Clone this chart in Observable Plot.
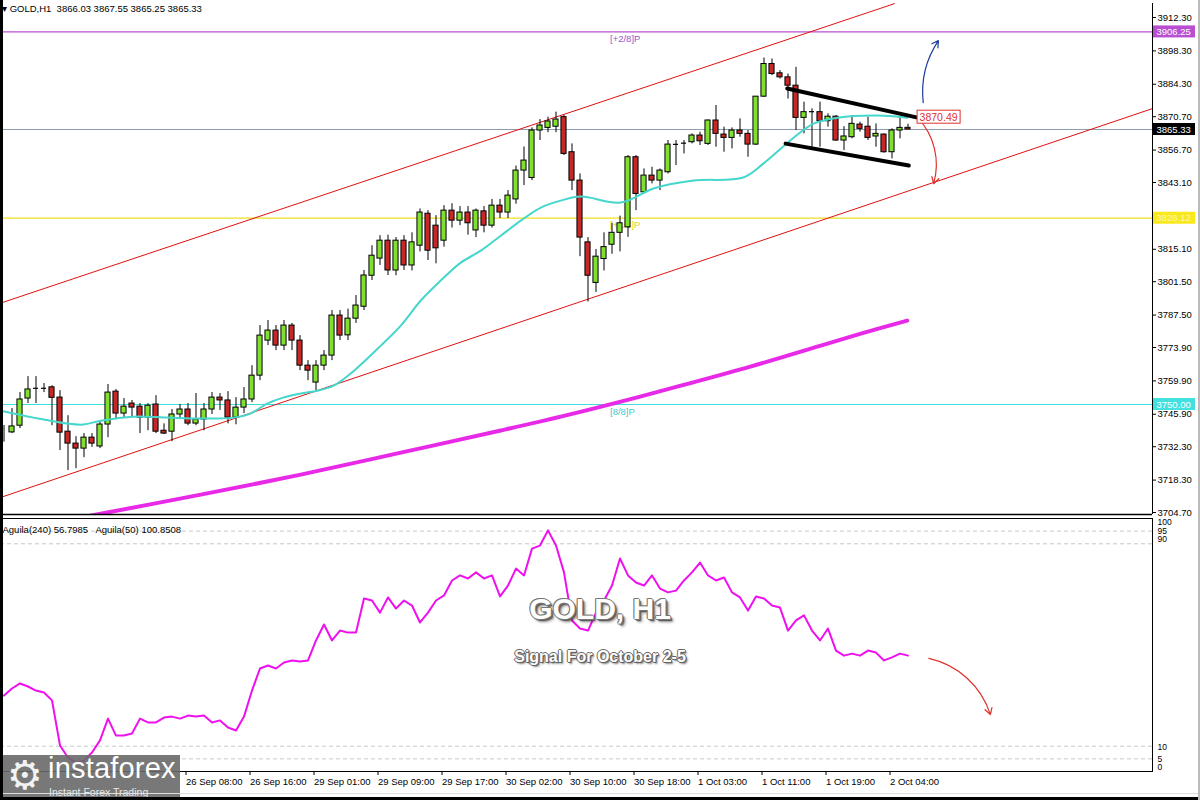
<!DOCTYPE html>
<html><head><meta charset="utf-8">
<script src="https://cdn.jsdelivr.net/npm/d3@7"></script>
<script src="https://cdn.jsdelivr.net/npm/@observablehq/plot@0.6"></script>
<style>
html,body{margin:0;padding:0;background:#fff;}
#wrap{position:relative;width:1200px;height:800px;overflow:hidden;background:#fff;font-family:"Liberation Sans",Arial,sans-serif;}
#price,#ind{position:absolute;left:0;}
#price{top:0}
#ind{top:516px}
#hdr{position:absolute;left:2px;top:3px;font-size:9.5px;color:#000;white-space:pre;}
#title{position:absolute;left:0;width:1200px;top:592px;text-align:center;font-weight:bold;font-size:30px;color:#fff;text-shadow:-1px 0 #777,1px 0 #777,0 -1px #777,0 1px #777,-1px -1px #888,1px 1px #777,2px 2px 1px #555,3px 3px 3px rgba(0,0,0,0.45);}
#sub{position:absolute;left:0;width:1200px;top:648px;text-align:center;font-weight:bold;font-size:16px;color:#fff;text-shadow:-1px 0 #666,1px 0 #666,0 -1px #666,0 1px #666,1px 1px #555,2px 2px 2px rgba(0,0,0,0.5);}
#logo{position:absolute;left:3px;top:755px;width:177px;height:45px;background:rgba(105,105,105,0.9);color:#fff;}
#logo .gear{position:absolute;left:4px;top:-2px;font-size:40px;line-height:44px;color:#f2f2f2;font-family:"DejaVu Sans";}
#logo .big{position:absolute;left:45px;top:-3px;font-size:29px;letter-spacing:0.2px;}
#logo .small{position:absolute;left:46px;top:31px;font-size:10.5px;color:#e8e8e8;}
#lb{position:absolute;left:0;top:0;width:3px;height:800px;background:#000;}
#bb{position:absolute;left:0;top:797px;width:1200px;height:3px;background:#000;}
#rb{position:absolute;left:1198px;top:0;width:2px;height:800px;background:#bbb;}
#gl{position:absolute;left:0;top:793px;width:1200px;height:1px;background:#ddd;}
</style></head>
<body><div id="wrap">
<div id="price"></div>
<div id="ind"></div>
<div id="hdr">▾ GOLD,H1  3866.03 3867.55 3865.25 3865.33</div>
<div id="title">GOLD, H1</div>
<div id="sub">Signal For October 2-5</div>
<div id="logo"><span class="gear">⚙</span><span class="big">instaforex</span><span class="small">Instant Forex Trading</span></div>
<div id="gl"></div><div id="lb"></div><div id="bb"></div><div id="rb"></div>
</div>
<script>
// ---------- DATA ----------
const opens = [3738.3,3738.3,3741.1,3752.5,3756.8,3756.8,3757.2,3752.9,3738.6,3733.6,3731.5,3736.1,3732.4,3741.6,3755.4,3746.2,3750.4,3749.1,3744.5,3750.0,3739.0,3738.6,3745.8,3747.9,3742.0,3743.7,3747.9,3752.9,3751.7,3744.5,3748.7,3752.1,
3762.1,3776.8,3781.0,3774.7,3783.1,3776.8,3766.3,3759.2,3766.3,3770.5,3787.3,3779.0,3786.0,3791.0,3804.0,3811.2,3818.7,3806.2,3818.7,3808.3,3816.6,3830.0,3825.0,3818.7,3831.3,3827.1,3830.5,3823.0,3831.0,3825.0,3833.4,3830.5,3836.0,3848.1,3845.0,3864.9,3866.0,3866.5,
3870.5,3855.8,3843.9,3818.0,3801.0,3811.0,3817.0,3822.0,3824.3,3853.7,3839.0,3846.0,3843.9,3847.4,3859.0,3859.4,3860.0,3862.8,3859.3,3869.1,3863.2,3861.8,3864.9,3863.5,3859.0,3879.1,3892.8,3888.9,3887.2,3883.7,3870.2,3872.8,3872.6,3868.8,3870.7,3860.7,3862.1,3867.4,3866.5,3862.4,3863.2,3855.8,3864.9,3866.03];
const highs = [3741.2,3748.3,3755.0,3761.7,3761.7,3758.8,3757.9,3755.8,3745.3,3736.5,3737.8,3737.8,3742.8,3758.4,3756.3,3752.5,3751.7,3750.4,3750.4,3753.7,3741.9,3747.9,3750.0,3750.4,3754.6,3750.4,3755.0,3754.6,3755.4,3752.9,3757.1,3766.3,
3783.1,3785.2,3783.1,3785.2,3784.0,3778.9,3768.4,3768.4,3772.6,3789.4,3789.4,3790.0,3795.7,3806.2,3816.6,3820.8,3821.0,3820.0,3820.8,3822.0,3832.0,3831.3,3829.2,3833.4,3834.2,3833.0,3833.0,3832.0,3833.0,3836.0,3836.0,3839.7,3850.0,3858.0,3866.0,3869.5,3870.5,3872.6,
3871.2,3859.3,3846.7,3820.0,3815.0,3822.0,3826.0,3829.0,3854.4,3854.4,3848.8,3849.5,3848.8,3860.7,3860.7,3860.7,3863.5,3864.2,3869.3,3875.4,3866.3,3866.0,3869.8,3864.9,3879.1,3895.3,3894.9,3890.0,3888.6,3891.4,3876.8,3874.0,3876.8,3871.9,3871.2,3866.5,3871.2,3868.4,3870.5,3867.7,3863.5,3865.6,3870.5,3867.55];
const lows = [3734.2,3737.8,3739.9,3750.4,3750.4,3755.0,3741.1,3730.7,3722.3,3723.1,3727.7,3732.0,3731.5,3736.1,3743.6,3744.5,3744.5,3737.8,3739.0,3737.8,3737.4,3734.4,3744.1,3741.1,3741.1,3739.0,3745.8,3747.5,3741.9,3741.5,3746.2,3750.8,
3760.0,3774.7,3772.6,3772.6,3772.6,3764.2,3760.0,3755.8,3764.2,3768.4,3776.8,3776.8,3784.0,3789.4,3802.0,3808.3,3804.1,3804.0,3806.2,3806.0,3814.0,3810.4,3809.0,3816.0,3824.0,3825.0,3821.0,3820.0,3822.0,3824.0,3828.0,3828.0,3834.0,3841.8,3843.9,3860.7,3864.0,3864.0,
3854.4,3839.7,3812.0,3793.0,3797.0,3806.0,3813.0,3814.0,3820.1,3831.3,3838.3,3842.5,3839.7,3846.7,3850.2,3855.1,3859.3,3858.6,3858.6,3857.9,3855.8,3857.2,3862.1,3853.7,3858.6,3878.8,3887.9,3886.5,3878.1,3864.9,3863.5,3857.9,3857.9,3866.3,3860.4,3856.5,3861.4,3864.2,3860.7,3857.9,3855.4,3853.0,3861.4,3865.25];
const closes = [3738.0,3740.8,3752.1,3756.3,3756.8,3756.8,3752.8,3738.2,3733.6,3731.5,3736.1,3733.6,3741.6,3755.0,3746.2,3749.1,3748.7,3744.5,3749.5,3738.6,3737.8,3745.8,3747.9,3742.0,3743.7,3747.9,3752.9,3751.7,3744.5,3748.7,3752.1,3762.1,
3778.9,3781.0,3774.7,3783.1,3776.8,3766.3,3764.2,3766.3,3770.5,3787.3,3778.9,3786.0,3791.5,3804.1,3812.4,3818.7,3806.2,3818.7,3808.3,3818.0,3830.5,3814.5,3815.5,3831.3,3827.1,3830.5,3826.0,3831.3,3825.0,3833.4,3830.5,3837.6,3848.1,3852.3,3864.9,3867.0,3868.7,3869.5,
3855.1,3843.9,3820.0,3804.0,3812.0,3816.0,3822.0,3826.0,3853.7,3838.3,3846.0,3843.9,3848.1,3859.0,3859.1,3859.6,3862.8,3860.4,3869.1,3863.5,3861.8,3864.9,3863.5,3859.0,3879.1,3892.8,3888.6,3887.2,3883.7,3870.2,3872.6,3872.8,3868.8,3870.7,3860.7,3862.4,3867.7,3865.6,3861.8,3863.5,3855.8,3864.9,3866.0,3865.33];

// 20-period MA (cyan) read at bar positions
const ma20Idx = [-0.4,3.7,7.9,9.9,12.1,16.2,20.4,24.6,28.7,30.8,32.9,34.9,37.1,39.2,41.2,43.3,47.1,49.6,52.1,54.6,57.1,59.6,62.1,64.6,67.1,69.6,72.1,77.1,81.2,86.2,92.4,94.9,98.7,101.2,104.2,109.2,112.9];
const ma20Val = [3747.4,3744.5,3742.0,3741.6,3743.2,3744.9,3744.5,3744.1,3744.5,3746.2,3750.4,3752.9,3754.6,3755.8,3757.9,3762.9,3774.7,3783.1,3793.6,3802.0,3809.5,3814.5,3820.8,3827.1,3832.6,3835.5,3837.2,3834.7,3840.6,3843.9,3845.2,3851.0,3861.9,3867.8,3870.3,3871.2,3870.3];
// 240-period MA (magenta)
const ma240Idx = [10.2,24.6,37.1,49.6,62.1,69.6,77.1,84.6,93.3,102.1,107.1,112.9];
const ma240Val = [3703.0,3712.2,3720.6,3729.8,3739.1,3744.9,3751.2,3757.9,3765.9,3774.7,3779.7,3785.2];

// Oscillator (panel 2)
const oscVal = [30.0,32.8,34.8,33.6,32.0,31.2,28.1,10.3,5.5,3.6,4.3,7.5,12.3,20.9,14.2,14.2,15.0,20.9,19.4,19.4,21.3,21.7,20.9,22.1,21.7,22.1,19.4,20.2,17.4,16.2,21.7,32.0,
40.7,41.9,40.7,43.1,43.9,43.5,43.9,51.8,58.1,51.8,55.7,54.9,54.9,68.4,67.6,62.8,68.8,64.4,67.6,65.6,58.9,62.8,67.6,69.6,75.5,77.5,76.3,78.7,76.3,77.5,69.2,73.5,80.2,77.5,88.1,89.3,95.3,89.3,
78.7,59.7,56.5,55.7,62.8,67.6,73.5,84.2,77.5,74.7,73.5,77.5,72.3,70.8,71.5,75.5,78.7,82.6,77.5,75.5,76.7,70.8,68.8,63.6,69.2,68.4,65.6,64.8,55.7,59.7,61.7,55.7,51.8,56.5,47.8,45.8,46.6,45.8,47.8,47.0,43.9,45.1,46.6,45.8];
const oscLevels = [95, 90, 10, 5];

// Murrey levels and current price
const levelNames = ["[+2/8]P", "[+1/8]P", "[8/8]P"];
const levelPrices = [3906.25, 3828.12, 3750.00];
const levelColors = ["#b94fd0", "#f0e020", "#3fdcdc"];
const levelTextColors = ["#9a55cc", "#e6d21a", "#3fc8d0"];
const lastPrice = 3865.33;

// Channel (analyst drawing), endpoints in bar index / price
const upperChanIdx = [-0.44, 111.3];
const upperChanVal = [3792.5, 3918.1];
const lowerChanIdx = [-0.44, 143.56];
const lowerChanVal = [3711.0, 3874.1];
// Flag pattern lines
const flagTopIdx = [97.9, 114.2];
const flagTopVal = [3882.5, 3870.3];
const flagBotIdx = [97.7, 113.1];
const flagBotVal = [3859.4, 3850.2];
const flagLabel = 3870.49;

// Arrows
const upArrow = {x1: 114.9, y1: 3876.6, x2: 116.8, y2: 3902.6};
const downArrow = {x1: 114.2, y1: 3870.3, x2: 116.2, y2: 3842.6};
const oscArrow = {x1: 115.6, y1: 44.7, x2: 123.3, y2: 22.5};

// Axis ticks (3829.10 is hidden under the 3828.12 label in the original)
const priceTicks = [3912.30,3898.30,3884.30,3870.70,3856.70,3843.10,3815.10,3801.50,3787.50,3773.90,3759.90,3745.90,3732.30,3718.30,3704.70];
const timeTickIdx = [23,31,39,47,55,63,71,79,87,95,103,111];
const timeTickLabels = ["26 Sep 08:00","26 Sep 16:00","29 Sep 01:00","29 Sep 09:00","29 Sep 17:00","30 Sep 02:00","30 Sep 10:00","30 Sep 18:00","1 Oct 03:00","1 Oct 11:00","1 Oct 19:00","2 Oct 04:00"];
const oscHeader = "Aguila(240) 56.7985   Aguila(50) 100.8508";

// ---------- BUILD ----------
const candles = opens.map((o, i) => ({i, o, h: highs[i], l: lows[i], c: closes[i]}));
const up = candles.filter(d => d.c > d.o + 0.3);
const dn = candles.filter(d => d.c < d.o - 0.3);
const doji = candles.filter(d => Math.abs(d.c - d.o) <= 0.3);
const ma20 = ma20Idx.map((i, k) => ({i, v: ma20Val[k]}));
const ma240 = ma240Idx.map((i, k) => ({i, v: ma240Val[k]}));
const osc = oscVal.map((v, i) => ({i, v}));
const levels = levelPrices.map((p, k) => ({p, name: levelNames[k], col: levelColors[k], tcol: levelTextColors[k]}));
const pairs = (a, b) => a.map((x, k) => ({i: x, v: b[k]}));

const xDomain = [-0.4375, 143.5625];
const hw = 0.32;
const GREEN = "#7fe030", RED = "#c62828";
const fontFamily = "Liberation Sans, Arial, sans-serif";

const labelBox = (val, fill, stroke, tcol) => [
  Plot.rect([val], {x1: xDomain[1], x2: xDomain[1], y1: d => d, y2: d => d, insetLeft: 1, insetRight: -43, insetTop: -6, insetBottom: -6, fill, stroke}),
  Plot.text([val], {x: xDomain[1], y: d => d, text: d => d.toFixed(2), textAnchor: "start", dx: 4, fill: tcol, fontSize: 9.5})
];

const price = Plot.plot({
  width: 1200, height: 516,
  marginLeft: 0, marginRight: 48, marginTop: 3, marginBottom: 2,
  x: {domain: xDomain, axis: null},
  y: {domain: [3703.87, 3918.17], axis: null},
  style: {fontFamily, fontSize: "9.5px", background: "transparent", overflow: "visible"},
  marks: [
    Plot.ruleY(levels, {y: "p", stroke: "col", strokeWidth: 1.2}),
    Plot.text(levels, {x: 76, y: "p", text: "name", fill: "tcol", textAnchor: "start", dx: -2, dy: 7, fontSize: 9.5}),
    Plot.ruleY([lastPrice], {stroke: "#8d9bb3", strokeWidth: 1}),
    Plot.line(pairs(upperChanIdx, upperChanVal), {x: "i", y: "v", stroke: "#e01010", strokeWidth: 1, clip: true}),
    Plot.line(pairs(lowerChanIdx, lowerChanVal), {x: "i", y: "v", stroke: "#e01010", strokeWidth: 1, clip: true}),
    Plot.line(ma240, {x: "i", y: "v", stroke: "#e829e8", strokeWidth: 4, curve: "catmull-rom", clip: true}),
    Plot.ruleX(candles, {x: "i", y1: "l", y2: "h", stroke: "#000", strokeWidth: 1}),
    Plot.rect(up, {x1: d => d.i - hw, x2: d => d.i + hw, y1: "o", y2: "c", fill: GREEN, stroke: "#000", strokeWidth: 1}),
    Plot.rect(dn, {x1: d => d.i - hw, x2: d => d.i + hw, y1: "o", y2: "c", fill: RED, stroke: "#000", strokeWidth: 1}),
    Plot.ruleY(doji, {x1: d => d.i - hw, x2: d => d.i + hw, y: "c", stroke: "#000", strokeWidth: 1.2}),
    Plot.line(ma20, {x: "i", y: "v", stroke: "#45d6cc", strokeWidth: 2, curve: "catmull-rom"}),
    Plot.line(pairs(flagTopIdx, flagTopVal), {x: "i", y: "v", stroke: "#000", strokeWidth: 4}),
    Plot.line(pairs(flagBotIdx, flagBotVal), {x: "i", y: "v", stroke: "#000", strokeWidth: 4}),
    Plot.arrow([upArrow], {x1: "x1", y1: "y1", x2: "x2", y2: "y2", bend: 20, stroke: "#1f3c9a", strokeWidth: 1.2, headLength: 9}),
    Plot.arrow([downArrow], {x1: "x1", y1: "y1", x2: "x2", y2: "y2", bend: 30, stroke: "#e0302c", strokeWidth: 1.2, headLength: 9}),
    Plot.rect([flagLabel], {x1: flagTopIdx[1], x2: flagTopIdx[1], y1: d => d, y2: d => d, insetLeft: 0, insetRight: -43, insetTop: -6.5, insetBottom: -6.5, fill: "#fff", stroke: "#e03030"}),
    Plot.text([flagLabel], {x: flagTopIdx[1], y: d => d, text: d => d.toFixed(2), textAnchor: "start", dx: 2, fill: "#e03030", fontSize: 10.5}),
    Plot.ruleX([xDomain[1]], {stroke: "#000"}),
    Plot.ruleY([3703.87], {stroke: "#000", strokeWidth: 1.5}),
    Plot.axisY({anchor: "right", ticks: priceTicks, tickFormat: d => d.toFixed(2), tickSize: 3, tickPadding: 2, fontSize: 9.5}),
    ...labelBox(levelPrices[0], levelColors[0], "none", "#fff"),
    ...labelBox(lastPrice, "#000", "none", "#fff"),
    ...labelBox(levelPrices[1], "#f8e81c", "none", "#fff8b0"),
    ...labelBox(levelPrices[2], "#43e0e0", "none", "#fff")
  ]
});
document.getElementById("price").appendChild(price);

const ind = Plot.plot({
  width: 1200, height: 284,
  marginLeft: 0, marginRight: 48, marginTop: 2, marginBottom: 29,
  x: {domain: xDomain, axis: null},
  y: {domain: [0, 100], axis: null},
  style: {fontFamily, fontSize: "9.5px", background: "transparent", overflow: "visible"},
  marks: [
    Plot.ruleY(oscLevels, {stroke: "#c8c8c8", strokeDasharray: "4,3"}),
    Plot.line(osc, {x: "i", y: "v", stroke: "#ee10ee", strokeWidth: 2}),
    Plot.arrow([oscArrow], {x1: "x1", y1: "y1", x2: "x2", y2: "y2", bend: 30, stroke: "#e0302c", strokeWidth: 1.2, headLength: 9}),
    Plot.frame({stroke: "#000"}),
    Plot.text([oscHeader], {frameAnchor: "top-left", text: d => d, dx: 2, dy: 8, fontSize: 9.5, fill: "#000"}),
    Plot.axisY({anchor: "right", ticks: [100], tickSize: 0, tickPadding: 5, dy: 4, fontSize: 8.5}),
    Plot.axisY({anchor: "right", ticks: [95], tickSize: 0, tickPadding: 5, dy: 0, fontSize: 8.5}),
    Plot.axisY({anchor: "right", ticks: [90], tickSize: 0, tickPadding: 5, dy: -5, fontSize: 8.5}),
    Plot.axisY({anchor: "right", ticks: [10], tickSize: 0, tickPadding: 5, dy: 1, fontSize: 8.5}),
    Plot.axisY({anchor: "right", ticks: [5], tickSize: 0, tickPadding: 5, dy: 0, fontSize: 8.5}),
    Plot.axisY({anchor: "right", ticks: [0], tickSize: 0, tickPadding: 5, dy: -4, fontSize: 8.5}),
    Plot.axisX({anchor: "bottom", ticks: timeTickIdx, tickFormat: d => timeTickLabels[timeTickIdx.indexOf(d)], tickSize: 4, tickPadding: 3, textAnchor: "start", dx: -2, fontSize: 9.5})
  ]
});
document.getElementById("ind").appendChild(ind);
</script>
</body></html>
